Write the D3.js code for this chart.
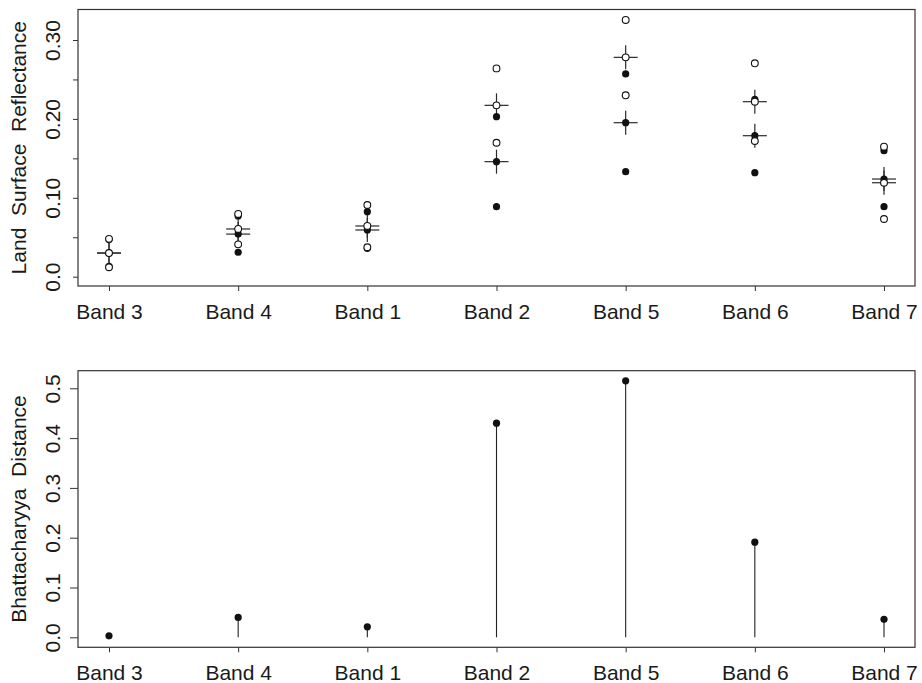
<!DOCTYPE html>
<html lang="en">
<head>
<meta charset="utf-8">
<title>Reflectance and Bhattacharyya distance</title>
<script src="https://d3js.org/d3.v7.min.js"></script>
<style>
  body { margin: 0; background: #fff; }
  text { font-family: "Liberation Sans", Arial, sans-serif; fill: #1a1a1a; white-space: pre; }
</style>
</head>
<body>
<script>
// bands in plotted order
var bands = ["Band 3", "Band 4", "Band 1", "Band 2", "Band 5", "Band 6", "Band 7"];

// open circles (class 1): upper point, mean, lower point
var openHigh = [0.048, 0.0795, 0.0909, 0.264, 0.3254, 0.2705, 0.1648];
var openMean = [0.030, 0.0605, 0.0643, 0.2172, 0.278, 0.2218, 0.1191];
var openLow  = [0.012, 0.041, 0.0373, 0.1698, 0.2299, 0.172, 0.0731];

// filled circles (class 2)
var filledHigh = [0.047, 0.077, 0.0824, 0.2028, 0.257, 0.2248, 0.1597];
var filledMean = [0.030, 0.054, 0.0592, 0.1458, 0.1952, 0.1787, 0.1238];
var filledLow  = [0.013, 0.031, 0.036, 0.0887, 0.1331, 0.1318, 0.0887];

// bottom panel
var distance = [0.003, 0.040, 0.021, 0.430, 0.515, 0.191, 0.036];

var topTicks = [0, 0.05, 0.10, 0.15, 0.20, 0.25, 0.30];
var topTickLabels = {"0": "0.0", "0.1": "0.10", "0.2": "0.20", "0.3": "0.30"};
var bottomTicks = [0, 0.1, 0.2, 0.3, 0.4, 0.5];

var width = 922, height = 683;
var svg = d3.select("body").append("svg")
    .attr("width", width)
    .attr("height", height);

var x = d3.scalePoint()
    .domain(bands)
    .range([78, 915])
    .padding(0.24);

var yTop = d3.scaleLinear().domain([0, 0.30]).range([276.7, 40]);
var yBot = d3.scaleLinear().domain([0, 0.5]).range([637.3, 388.3]);

function frame(top, bottom, y, ticks, fmt, title, tickLen) {
  var g = svg.append("g");
  g.append("rect")
      .attr("x", 78).attr("y", top)
      .attr("width", 837).attr("height", bottom - top)
      .attr("fill", "none").attr("stroke", "#333").attr("stroke-width", 1.2);

  var xa = g.append("g")
      .attr("transform", "translate(0," + bottom + ")")
      .call(d3.axisBottom(x).tickSize(5).tickPadding(14));
  xa.select(".domain").remove();
  xa.selectAll("line").attr("stroke", "#333");
  xa.selectAll("text").attr("font-size", 21).attr("dy", 0)
      .attr("y", 33 - 0).attr("fill", "#1a1a1a");

  var ya = g.append("g")
      .attr("transform", "translate(78,0)")
      .call(d3.axisLeft(y).tickValues(ticks).tickSize(tickLen).tickFormat(fmt));
  ya.select(".domain").remove();
  ya.selectAll("line").attr("stroke", "#333");
  ya.selectAll("text")
      .attr("font-size", 21)
      .attr("text-anchor", "middle")
      .attr("transform", "rotate(-90)")
      .attr("x", 0).attr("y", -18).attr("dy", 0)
      .attr("fill", "#1a1a1a");

  g.append("text")
      .attr("transform", "translate(26," + ((top + bottom) / 2) + ") rotate(-90)")
      .attr("text-anchor", "middle")
      .attr("font-size", 21)
      .text(title);
}

frame(9.5, 286, yTop, topTicks, function(d) {
  var k = String(Math.round(d * 100) / 100);
  return topTickLabels[k] || "";
}, "Land  Surface  Reflectance", 5);

frame(370.7, 647.3, yBot, bottomTicks, d3.format(".1f"), "Bhattacharyya  Distance", 8);

// top panel: plus marks at the means, then filled, then open circles
var plus = 12;
var means = bands.map(function(b, i) { return [b, openMean[i]]; })
    .concat(bands.map(function(b, i) { return [b, filledMean[i]]; }));

var pg = svg.append("g").attr("stroke", "#2a2a2a").attr("stroke-width", 1.2);
pg.selectAll("line.h").data(means).enter().append("line")
    .attr("x1", function(d) { return x(d[0]) - plus; })
    .attr("x2", function(d) { return x(d[0]) + plus; })
    .attr("y1", function(d) { return yTop(d[1]); })
    .attr("y2", function(d) { return yTop(d[1]); });
pg.selectAll("line.v").data(means).enter().append("line")
    .attr("x1", function(d) { return x(d[0]); })
    .attr("x2", function(d) { return x(d[0]); })
    .attr("y1", function(d) { return yTop(d[1]) - plus; })
    .attr("y2", function(d) { return yTop(d[1]) + plus; });

var filledPts = [];
var openPts = [];
bands.forEach(function(b, i) {
  filledPts.push([b, filledHigh[i]], [b, filledMean[i]], [b, filledLow[i]]);
  openPts.push([b, openHigh[i]], [b, openMean[i]], [b, openLow[i]]);
});

svg.append("g").selectAll("circle").data(filledPts).enter().append("circle")
    .attr("cx", function(d) { return x(d[0]); })
    .attr("cy", function(d) { return yTop(d[1]); })
    .attr("r", 3.6)
    .attr("fill", "#111");

svg.append("g").selectAll("circle").data(openPts).enter().append("circle")
    .attr("cx", function(d) { return x(d[0]); })
    .attr("cy", function(d) { return yTop(d[1]); })
    .attr("r", 3.4)
    .attr("fill", "#fff")
    .attr("stroke", "#111")
    .attr("stroke-width", 1.1);

// bottom panel: vertical lines from zero with dots
var dist = bands.map(function(b, i) { return [b, distance[i]]; });
svg.append("g").selectAll("line").data(dist).enter().append("line")
    .attr("x1", function(d) { return x(d[0]); })
    .attr("x2", function(d) { return x(d[0]); })
    .attr("y1", yBot(0))
    .attr("y2", function(d) { return yBot(d[1]); })
    .attr("stroke", "#222").attr("stroke-width", 1.1);
svg.append("g").selectAll("circle").data(dist).enter().append("circle")
    .attr("cx", function(d) { return x(d[0]); })
    .attr("cy", function(d) { return yBot(d[1]); })
    .attr("r", 3.6)
    .attr("fill", "#111");
</script>
</body>
</html>
